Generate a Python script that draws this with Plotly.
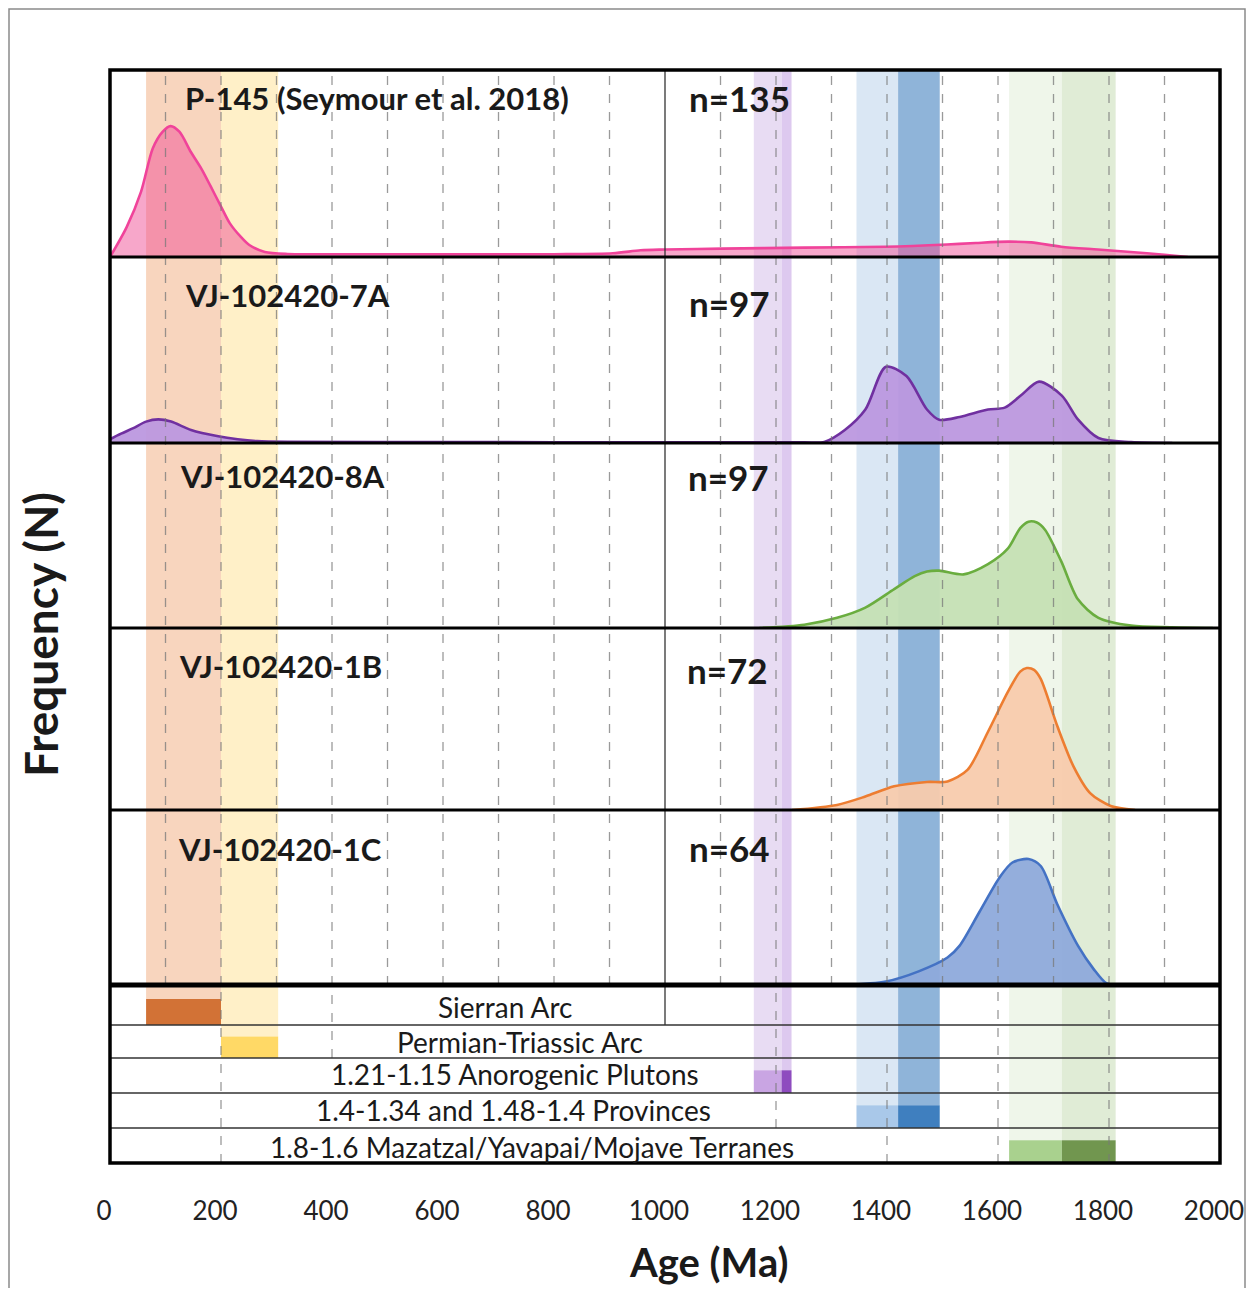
import plotly.graph_objects as go

# ---------------- data ----------------
p145_age = [0, 30, 56, 77, 95, 109, 125, 146, 165, 181, 200, 216, 235, 251, 279, 320, 400, 600, 800, 906,
            956, 1000, 1103, 1250, 1397, 1508, 1560, 1618, 1660, 1714, 1780, 1839, 1900, 1942]
p145_val = [0, 0.16, 0.35, 0.58, 0.67, 0.70, 0.67, 0.56, 0.47, 0.38, 0.27, 0.18, 0.11, 0.064, 0.027, 0.016,
            0.015, 0.014, 0.015, 0.02, 0.036, 0.04, 0.045, 0.05, 0.055, 0.067, 0.075, 0.082, 0.078, 0.055,
            0.04, 0.027, 0.012, 0]

a7_age = [0, 20, 42, 65, 87, 110, 146, 195, 230, 265, 320, 600, 1000, 1250, 1287, 1324, 1361, 1398, 1435,
          1472, 1494, 1531, 1582, 1612, 1641, 1674, 1715, 1744, 1781, 1840, 1914]
a7_val = [0.02, 0.05, 0.08, 0.115, 0.127, 0.115, 0.07, 0.036, 0.02, 0.01, 0.006, 0.005, 0.004, 0.004, 0.006,
          0.07, 0.18, 0.41, 0.36, 0.18, 0.125, 0.14, 0.18, 0.19, 0.255, 0.33, 0.255, 0.127, 0.027, 0.005, 0]

a8_age = [1170, 1251, 1310, 1361, 1413, 1450, 1472, 1494, 1538, 1582, 1618, 1640, 1655, 1670, 1685, 1714,
          1744, 1781, 1840, 1913, 1987]
a8_val = [0, 0.018, 0.055, 0.11, 0.21, 0.28, 0.305, 0.31, 0.29, 0.345, 0.43, 0.54, 0.575, 0.57, 0.53, 0.36,
          0.155, 0.055, 0.013, 0.004, 0]

b1_age = [1229, 1310, 1361, 1413, 1472, 1509, 1545, 1582, 1618, 1640, 1652, 1665, 1677, 1707, 1736, 1766,
          1803, 1847]
b1_val = [0, 0.028, 0.074, 0.13, 0.154, 0.157, 0.22, 0.43, 0.65, 0.76, 0.78, 0.77, 0.72, 0.46, 0.24, 0.093,
          0.022, 0]

c1_age = [1324, 1398, 1457, 1509, 1531, 1567, 1604, 1626, 1655, 1677, 1707, 1744, 1773, 1795, 1810]
c1_val = [0, 0.02, 0.078, 0.157, 0.225, 0.42, 0.62, 0.70, 0.72, 0.68, 0.46, 0.225, 0.088, 0.01, 0]

sample_names = ["P-145 (Seymour et al. 2018)", "VJ-102420-7A", "VJ-102420-8A", "VJ-102420-1B", "VJ-102420-1C"]
sample_n = ["n=135", "n=97", "n=97", "n=72", "n=64"]

row_labels = ["Sierran Arc", "Permian-Triassic Arc", "1.21-1.15 Anorogenic Plutons",
              "1.4-1.34 and 1.48-1.4 Provinces", "1.8-1.6 Mazatzal/Yavapai/Mojave Terranes"]
band_start = [65, 200, 1160, 1210, 1345, 1420, 1620, 1715]
band_end = [200, 303, 1210, 1228, 1420, 1495, 1715, 1812]
band_row = [0, 1, 2, 2, 3, 3, 4, 4]

tick_vals = list(range(0, 2001, 200))

# ---------------- styling ----------------
OFF = 8  # browser body margin
W, H = 1254 - 2 * OFF, 1296 - 2 * OFF
L, R, T, B = 110, 1220, 70, 1163   # page pixel positions of the plot area
panel_edges = [70, 257, 443, 628, 810, 985]
row_edges = [985, 1025, 1058, 1093, 1128, 1163]

line_cols = ["#f0439a", "#7030a0", "#6aad3f", "#ed7d31", "#4472c4"]
fill_cols = ["rgba(240,80,150,0.5)", "rgba(188,152,223,0.95)", "rgba(197,224,180,0.95)",
             "rgba(248,203,173,0.95)", "rgba(142,170,219,0.95)"]
band_cols = ["#f8d5be", "#fff0c8", "#e8dcf3", "#ddc9ef", "#dae7f4", "#8fb4d9", "#eff6ea", "#e0ecd6"]
bar_cols = ["#d27236", "#ffd966", "#c9a5e3", "#8e4cbf", "#a9c8e9", "#3f7fbf", "#a9d18e", "#71964f"]

FONT = "Lato"
GRID = dict(color="rgba(120,120,120,0.75)", width=1.3, dash="dash")


def xp(px):
    return (px - L) / (R - L)


def yp(py):
    return (B - py) / (B - T)


fig = go.Figure()
series = [(p145_age, p145_val), (a7_age, a7_val), (a8_age, a8_val), (b1_age, b1_val), (c1_age, c1_val)]
for i, (ages, vals) in enumerate(series):
    fig.add_trace(go.Scatter(
        x=ages, y=vals, mode="lines", xaxis="x", yaxis="y" if i == 0 else f"y{i+1}",
        line=dict(color=line_cols[i], width=2.6, shape="spline", smoothing=0.8),
        fill="tozeroy", fillcolor=fill_cols[i], showlegend=False, hoverinfo="skip"))

layout = dict(
    width=W, height=H, autosize=False,
    margin=dict(l=L - OFF, r=W - (R - OFF), t=T - OFF, b=H - (B - OFF), pad=0),
    paper_bgcolor="white", plot_bgcolor="rgba(0,0,0,0)",
    showlegend=False,
    font=dict(family=FONT, color="#1a1a1a"),
    xaxis=dict(range=[0, 2000], anchor="free", position=0, tickvals=tick_vals,
               ticktext=[str(v) for v in tick_vals], ticks="", showgrid=False, zeroline=False,
               showline=False, automargin=False, ticklabelstandoff=30, ticklabelshift=-6,
               tickfont=dict(family=FONT, size=26, color="#222")),
)
for i in range(5):
    key = "yaxis" if i == 0 else f"yaxis{i+1}"
    layout[key] = dict(domain=[yp(panel_edges[i + 1]), yp(panel_edges[i])], range=[0, 1], automargin=False,
                       showticklabels=False, showgrid=False, zeroline=False, showline=False, ticks="")
fig.update_layout(**layout)

shapes = []
# vertical bands and table bars
for s, e, r, bc, barc in zip(band_start, band_end, band_row, band_cols, bar_cols):
    rt, rb = row_edges[r], row_edges[r + 1]
    bar_top = rt + 0.35 * (rb - rt)
    shapes.append(dict(type="rect", xref="x", yref="paper", x0=s, x1=e, y0=yp(bar_top), y1=1,
                       fillcolor=bc, line=dict(width=0), layer="below"))
    shapes.append(dict(type="rect", xref="x", yref="paper", x0=s, x1=e, y0=yp(rb), y1=yp(bar_top),
                       fillcolor=barc, line=dict(width=0), layer="below"))
# dashed grid in panels (drawn over the fills, as in the original)
for k in range(100, 2000, 100):
    if k == 1000:
        continue
    shapes.append(dict(type="line", xref="x", yref="paper", x0=k, x1=k, y0=yp(985), y1=1,
                       line=GRID, layer="above"))
# dashed grid in table (partial)
table_grid = [(200, 985, 1163), (400, 985, 1058), (1200, 985, 1128), (1400, 1058, 1163),
              (1600, 985, 1163), (1800, 985, 1163)]
for k, a, b in table_grid:
    shapes.append(dict(type="line", xref="x", yref="paper", x0=k, x1=k, y0=yp(b), y1=yp(a),
                       line=GRID, layer="above"))
# solid 1000 line
shapes.append(dict(type="line", xref="x", yref="paper", x0=1000, x1=1000, y0=yp(1025), y1=1,
                   line=dict(color="#333", width=1.3), layer="above"))
# table row lines
for py in row_edges[1:-1]:
    shapes.append(dict(type="line", xref="paper", yref="paper", x0=0, x1=1, y0=yp(py), y1=yp(py),
                       line=dict(color="#333", width=1.5), layer="above"))
# panel separators
for py in panel_edges[1:-1]:
    shapes.append(dict(type="line", xref="paper", yref="paper", x0=0, x1=1, y0=yp(py), y1=yp(py),
                       line=dict(color="black", width=3), layer="above"))
shapes.append(dict(type="line", xref="paper", yref="paper", x0=0, x1=1, y0=yp(985), y1=yp(985),
                   line=dict(color="black", width=5), layer="above"))
# outer border of plot
shapes.append(dict(type="rect", xref="paper", yref="paper", x0=0, x1=1, y0=0, y1=1,
                   line=dict(color="black", width=3.5), layer="above"))
# outer frame of the figure
shapes.append(dict(type="rect", xref="paper", yref="paper", x0=xp(9), x1=xp(1245), y0=yp(1300), y1=yp(9),
                   line=dict(color="#8a8a8a", width=1.5), layer="above"))

annotations = []
name_pos = [(183, 98), (183, 295), (178, 476), (177, 666), (176, 849)]
n_pos = [(687, 98), (687, 303), (686, 477), (685, 670), (687, 848)]
for nm, (px, py) in zip(sample_names, name_pos):
    annotations.append(dict(text=f"<b>{nm}</b>", xref="paper", yref="paper", x=xp(px), y=yp(py),
                            xanchor="left", yanchor="middle", showarrow=False,
                            font=dict(family=FONT, size=31, color="#1a1a1a")))
for nn, (px, py) in zip(sample_n, n_pos):
    annotations.append(dict(text=f"<b>{nn}</b>", xref="paper", yref="paper", x=xp(px), y=yp(py),
                            xanchor="left", yanchor="middle", showarrow=False,
                            font=dict(family=FONT, size=35, color="#1a1a1a")))
row_text_pos = [(505, 1007), (520, 1042), (515, 1074), (513, 1110), (532, 1147)]
for lab, (px, py) in zip(row_labels, row_text_pos):
    annotations.append(dict(text=lab, xref="paper", yref="paper", x=xp(px), y=yp(py),
                            xanchor="center", yanchor="middle", showarrow=False,
                            font=dict(family=FONT, size=28, color="#1a1a1a")))
annotations.append(dict(text="<b>Frequency (N)</b>", xref="paper", yref="paper", x=xp(40), y=yp(635),
                        textangle=-90, xanchor="center", yanchor="middle", showarrow=False,
                        font=dict(family=FONT, size=46, color="#1a1a1a")))
annotations.append(dict(text="<b>Age (Ma)</b>", xref="paper", yref="paper", x=xp(708), y=yp(1262),
                        xanchor="center", yanchor="middle", showarrow=False,
                        font=dict(family=FONT, size=40, color="#1a1a1a")))

fig.update_layout(shapes=shapes, annotations=annotations)
fig.write_html("out.html")
